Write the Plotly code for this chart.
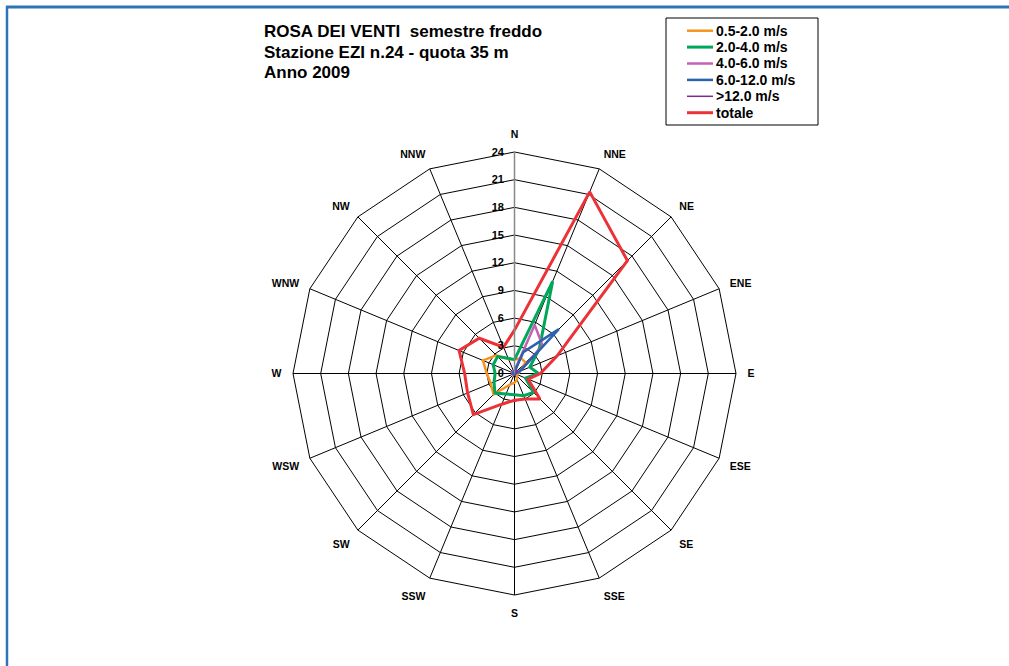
import plotly.graph_objects as go

directions = ["N", "NNE", "NE", "ENE", "E", "ESE", "SE", "SSE",
              "S", "SSW", "SW", "WSW", "W", "WNW", "NW", "NNW"]
v_05_2 = [1.5, 1.8, 1.7, 0.6, 0.4, 0.3, 0.4, 0.7, 1.0, 1.3, 3.2, 2.8, 3.0, 3.7, 2.8, 1.7]
v_2_4 = [1.5, 10.8, 3.8, 1.8, 2.6, 1.3, 2.9, 2.6, 2.3, 2.4, 3.0, 2.4, 2.1, 2.5, 2.6, 1.8]
v_4_6 = [0.3, 5.7, 4.3, 0.6, 0.2, 0.1, 0.1, 0.1, 0.1, 0.1, 0.2, 0.2, 0.2, 0.3, 0.3, 0.2]
v_6_12 = [0.2, 2.5, 6.8, 0.6, 0.1, 0.1, 0.1, 0.1, 0.1, 0.1, 0.1, 0.1, 0.1, 0.2, 0.2, 0.1]
v_12 = [0.0, 0.2, 0.5, 0.1, 0.0, 0.0, 0.0, 0.0, 0.0, 0.0, 0.0, 0.0, 0.0, 0.0, 0.0, 0.0]
totale = [4.7, 21.3, 17.3, 5.0, 2.8, 1.6, 3.9, 3.0, 2.9, 3.6, 6.3, 5.5, 5.4, 6.5, 5.4, 3.1]

series_names = ["0.5-2.0 m/s", "2.0-4.0 m/s", "4.0-6.0 m/s", "6.0-12.0 m/s", ">12.0 m/s", "totale"]
series_values = [v_05_2, v_2_4, v_4_6, v_6_12, v_12, totale]
series_colors = ["#f7941d", "#00a65a", "#c462b4", "#2b62ae", "#7b2a96", "#ec3237"]
series_widths = [2.5, 3, 2.5, 2.5, 1.5, 3]
radial_ticks = [0, 3, 6, 9, 12, 15, 18, 21, 24]
title_lines = ["ROSA DEI VENTI  semestre freddo", "Stazione EZI n.24 - quota 35 m", "Anno 2009"]

FONT = "Liberation Sans"
W, H = 1009, 666
cx, cy, R = 514.5, 373.5, 221.5

fig = go.Figure()
for name, vals, color, w in zip(series_names, series_values, series_colors, series_widths):
    fig.add_trace(go.Scatterpolar(
        r=vals + vals[:1], theta=directions + directions[:1], mode="lines",
        name=name, line=dict(color=color, width=w), showlegend=False))

def px(x):
    return x / W

def py(y):
    return 1 - y / H

annotations = []
for i, t in enumerate(title_lines):
    annotations.append(dict(
        x=px(262), y=py(31.5 + 20.5 * i), xref="paper", yref="paper",
        xanchor="left", yanchor="middle", align="left", showarrow=False, text=t,
        font=dict(size=17, family=FONT, weight="bold", color="black")))

shapes = [
    dict(type="line", xref="paper", yref="paper", x0=px(6), x1=1, y0=py(7), y1=py(7),
         line=dict(color="#2e75b6", width=3)),
    dict(type="line", xref="paper", yref="paper", x0=px(7), x1=px(7), y0=0, y1=py(6),
         line=dict(color="#2e75b6", width=2.5)),
    dict(type="rect", xref="paper", yref="paper", x0=px(666), x1=px(818), y0=py(125), y1=py(18),
         line=dict(color="black", width=1), fillcolor="white", layer="below"),
]
# legend (drawn from the series lists)
for i, (name, color, w) in enumerate(zip(series_names, series_colors, series_widths)):
    yc = 30.7 + 16.4 * i
    shapes.append(dict(type="line", xref="paper", yref="paper",
                       x0=px(687), x1=px(713), y0=py(yc), y1=py(yc),
                       line=dict(color=color, width=w)))
    annotations.append(dict(
        x=px(714), y=py(yc), xref="paper", yref="paper", xanchor="left", yanchor="middle",
        showarrow=False, text=name,
        font=dict(size=14, family=FONT, weight="bold", color="black")))

fig.update_layout(
    width=W, height=H, margin=dict(l=0, r=0, t=0, b=0),
    paper_bgcolor="white", plot_bgcolor="white",
    font=dict(family=FONT, color="black"),
    showlegend=False,
    polar=dict(
        domain=dict(x=[(cx - R) / W, (cx + R) / W],
                    y=[(H - cy - R) / H, (H - cy + R) / H]),
        bgcolor="white", gridshape="linear",
        angularaxis=dict(direction="clockwise", rotation=90,
                         categoryorder="array", categoryarray=directions,
                         showgrid=True, gridcolor="black", gridwidth=1,
                         showline=True, linecolor="black", linewidth=1,
                         ticks="outside", ticklen=9, tickcolor="rgba(0,0,0,0)",
                         tickfont=dict(size=10.5, family=FONT, weight="bold")),
        radialaxis=dict(range=[0, 24], tickvals=radial_ticks,
                        angle=90, side="counterclockwise", tickangle=90,
                        showgrid=True, gridcolor="black", gridwidth=1,
                        showline=True, linecolor="#888888", linewidth=1.5,
                        ticks="outside", ticklen=6, tickcolor="rgba(0,0,0,0)",
                        tickfont=dict(size=11, family=FONT, weight="bold")),
    ),
    annotations=annotations,
    shapes=shapes,
)
fig.write_html("out.html", config={"displayModeBar": False},
               post_script="document.body.style.margin='0px';")
